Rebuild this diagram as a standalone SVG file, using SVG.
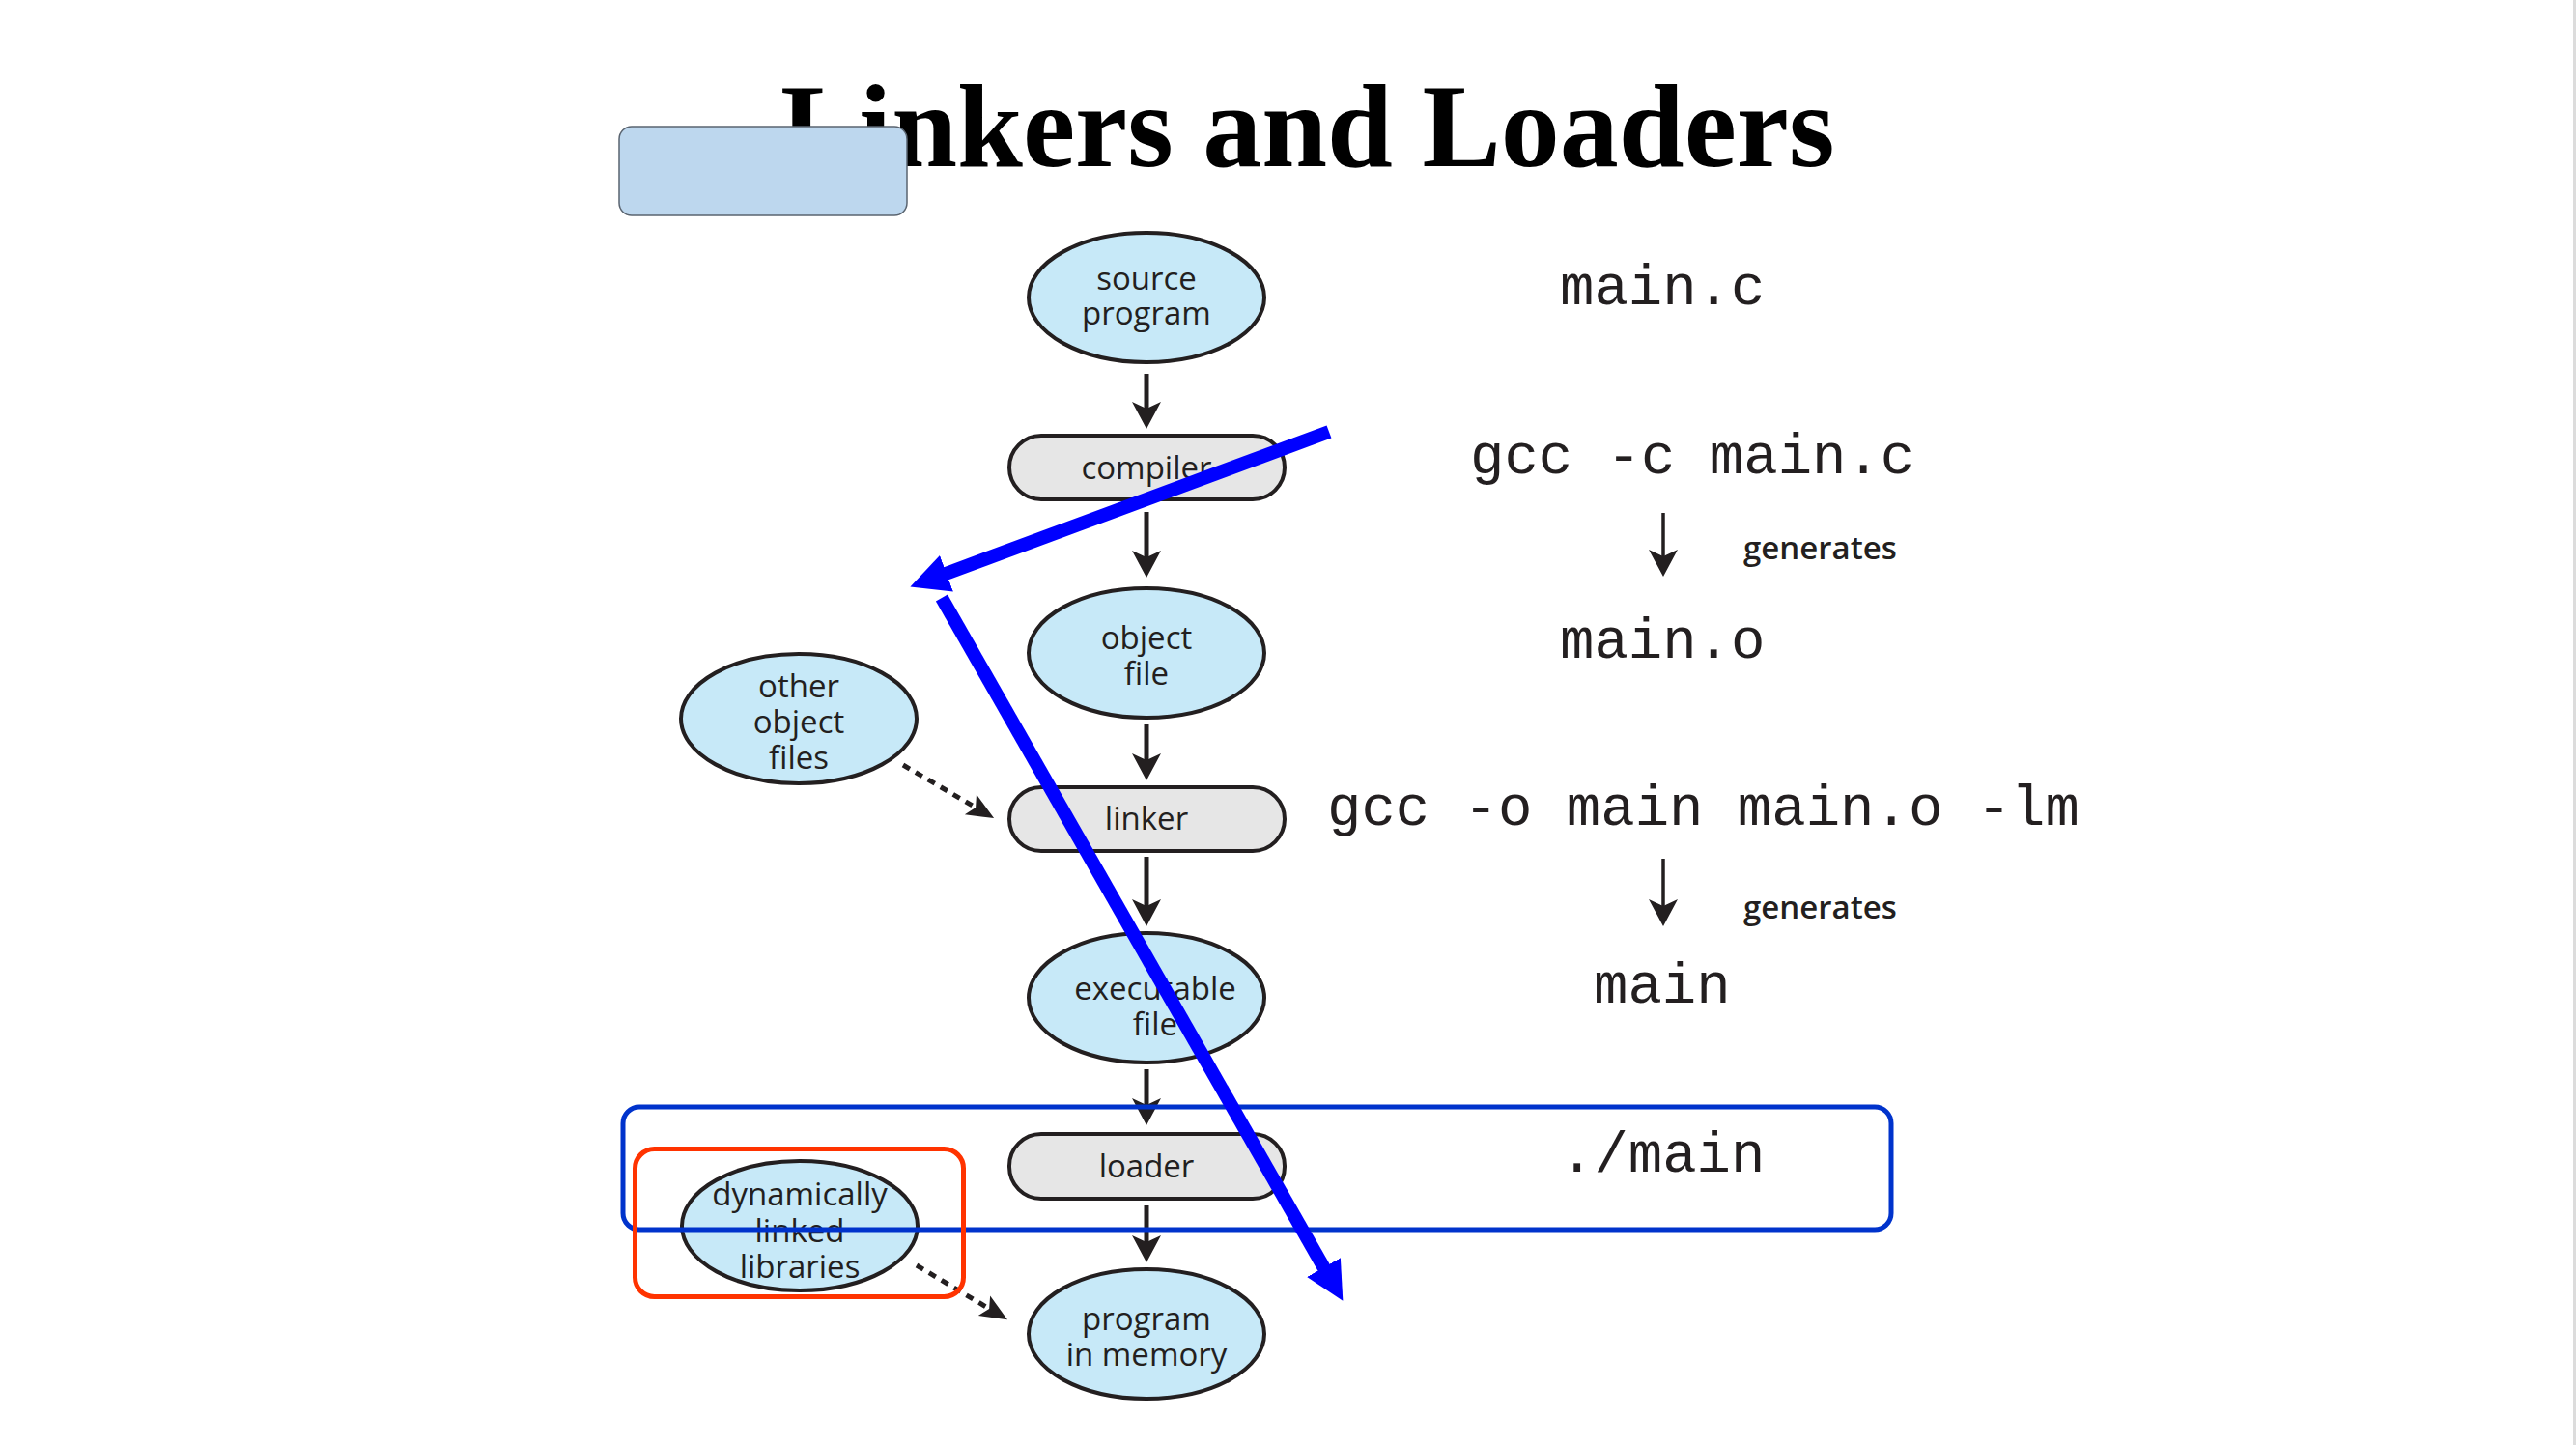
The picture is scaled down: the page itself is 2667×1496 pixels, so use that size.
<svg xmlns="http://www.w3.org/2000/svg" width="2667" height="1496" viewBox="0 0 2667 1496">
<style>
.ell{fill:#c7e9f8;stroke:#231f20;stroke-width:4}
.box{fill:#e6e6e6;stroke:#231f20;stroke-width:4}
.lbl{font-family:"Open Sans","Liberation Sans",sans-serif;font-size:33px;fill:#231f20;text-anchor:middle}
.gen{font-family:"Open Sans","Liberation Sans",sans-serif;font-size:33px;font-weight:600;fill:#231f20}
.code{font-family:"Liberation Mono","Courier New",monospace;font-size:59px;fill:#231f20}
.flow{stroke:#231f20;stroke-width:5;fill:none}
.thin{stroke:#231f20;stroke-width:3.5;fill:none}
.dot{stroke:#231f20;stroke-width:5;stroke-dasharray:8 7;fill:none}
.blue{stroke:#0000ff;stroke-width:14;fill:none}
</style>
<defs>
<marker id="ah" viewBox="0 -16 30 32" refX="14" refY="0" markerWidth="30" markerHeight="32" markerUnits="userSpaceOnUse" orient="auto"><path d="M0,-15 L28,0 L0,15 L7,0 Z" fill="#231f20"/></marker>
<marker id="ahs" viewBox="0 -14 30 28" refX="14" refY="0" markerWidth="30" markerHeight="28" markerUnits="userSpaceOnUse" orient="auto"><path d="M0,-12 L28,0 L0,12 L6,0 Z" fill="#231f20"/></marker>
<marker id="bh" viewBox="0 -21 42 42" refX="1" refY="0" markerWidth="42" markerHeight="42" markerUnits="userSpaceOnUse" orient="auto"><path d="M0,-20 L40,0 L0,20 Z" fill="#0000ff"/></marker>
</defs>
<rect x="0" y="0" width="2667" height="1496" fill="#ffffff"/>
<rect x="2664" y="0" width="3" height="1496" fill="#dcdcdc"/>

<g id="title">
<text x="808" y="172" font-family="'Liberation Serif','Times New Roman',serif" font-size="122" font-weight="bold" fill="#000">Linkers and Loaders</text>
</g>
<g id="title-patch"><rect x="641" y="131" width="298" height="92" rx="13" fill="#bdd7ee" stroke="#5a6470" stroke-width="1.5"/></g>

<g id="connectors">
<line class="flow" x1="1187" y1="387" x2="1187" y2="430" marker-end="url(#ah)"/>
<line class="flow" x1="1187" y1="530" x2="1187" y2="584" marker-end="url(#ah)"/>
<line class="flow" x1="1187" y1="750" x2="1187" y2="794" marker-end="url(#ah)"/>
<line class="flow" x1="1187" y1="887" x2="1187" y2="945" marker-end="url(#ah)"/>
<line class="flow" x1="1187" y1="1107" x2="1187" y2="1151" marker-end="url(#ah)"/>
<line class="flow" x1="1187" y1="1248" x2="1187" y2="1293" marker-end="url(#ah)"/>
<line class="dot" x1="935" y1="792" x2="1017" y2="840" marker-end="url(#ahs)"/>
<line class="dot" x1="949" y1="1310" x2="1031" y2="1359" marker-end="url(#ahs)"/>
<line class="thin" x1="1722" y1="531" x2="1722" y2="583" marker-end="url(#ah)"/>
<line class="thin" x1="1722" y1="889" x2="1722" y2="945" marker-end="url(#ah)"/>
</g>

<g id="source-program">
<ellipse class="ell" cx="1187" cy="308" rx="122" ry="67"/>
<text class="lbl" x="1187" y="300">source</text>
<text class="lbl" x="1187" y="336">program</text>
</g>
<g id="compiler">
<rect class="box" x="1045" y="451" width="285" height="66" rx="33"/>
<text class="lbl" x="1187" y="496">compiler</text>
</g>
<g id="object-file">
<ellipse class="ell" cx="1187" cy="676" rx="122" ry="67"/>
<text class="lbl" x="1187" y="672">object</text>
<text class="lbl" x="1187" y="709">file</text>
</g>
<g id="other-object-files">
<ellipse class="ell" cx="827" cy="744" rx="122" ry="67"/>
<text class="lbl" x="827" y="722">other</text>
<text class="lbl" x="827" y="759">object</text>
<text class="lbl" x="827" y="796">files</text>
</g>
<g id="linker">
<rect class="box" x="1045" y="815" width="285" height="66" rx="33"/>
<text class="lbl" x="1187" y="859">linker</text>
</g>
<g id="executable-file">
<ellipse class="ell" cx="1187" cy="1033" rx="122" ry="67"/>
<text class="lbl" x="1196" y="1035">executable</text>
<text class="lbl" x="1196" y="1072">file</text>
</g>
<g id="loader">
<rect class="box" x="1045" y="1174" width="285" height="67" rx="33"/>
<text class="lbl" x="1187" y="1219">loader</text>
</g>
<g id="dynamically-linked-libraries">
<ellipse class="ell" cx="828" cy="1269" rx="122" ry="67"/>
<text class="lbl" x="828" y="1248">dynamically</text>
<text class="lbl" x="828" y="1286">linked</text>
<text class="lbl" x="828" y="1323">libraries</text>
</g>
<g id="program-in-memory">
<ellipse class="ell" cx="1187" cy="1381" rx="122" ry="67"/>
<text class="lbl" x="1187" y="1377">program</text>
<text class="lbl" x="1187" y="1414">in memory</text>
</g>

<g id="commands">
<text class="code" x="1615" y="315">main.c</text>
<text class="code" x="1522" y="490">gcc -c main.c</text>
<text class="gen" x="1805" y="579">generates</text>
<text class="code" x="1615" y="681">main.o</text>
<text class="code" x="1374" y="854">gcc -o main main.o -lm</text>
<text class="gen" x="1805" y="951">generates</text>
<text class="code" x="1650" y="1038">main</text>
<text class="code" x="1615" y="1213">./main</text>
</g>

<g id="annotations">
<rect x="645" y="1146" width="1313" height="127" rx="17" fill="none" stroke="#0033cc" stroke-width="5"/>
<rect x="657.5" y="1189.5" width="340" height="153" rx="20" fill="none" stroke="#ff3300" stroke-width="5"/>
<line class="blue" x1="1376" y1="447" x2="979" y2="594" marker-end="url(#bh)"/>
<line class="blue" x1="975" y1="619" x2="1371" y2="1313" marker-end="url(#bh)"/>
</g>
</svg>
